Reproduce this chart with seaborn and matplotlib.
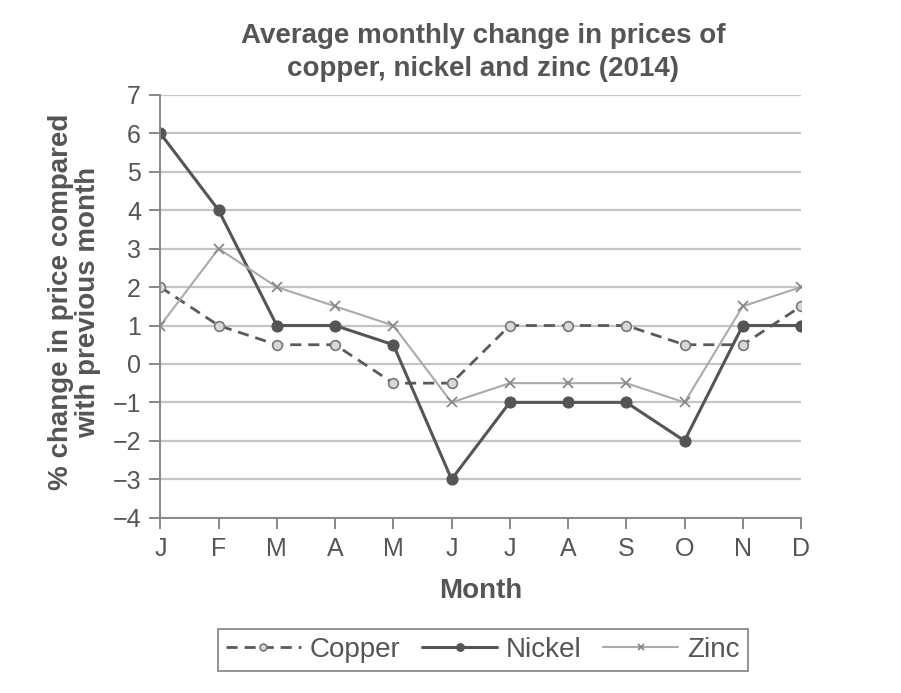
import matplotlib
matplotlib.use("Agg")
import matplotlib.pyplot as plt
import numpy as np
import pandas as pd
import seaborn as sns

# Data
months = ["J", "F", "M", "A", "M", "J", "J", "A", "S", "O", "N", "D"]
copper = [2, 1, 0.5, 0.5, -0.5, -0.5, 1, 1, 1, 0.5, 0.5, 1.5]
nickel = [6, 4, 1, 1, 0.5, -3, -1, -1, -1, -2, 1, 1]
zinc = [1, 3, 2, 1.5, 1, -1, -0.5, -0.5, -0.5, -1, 1.5, 2]
y_ticks = list(range(-4, 8))

sns.set_style("white")
plt.rcParams['font.family'] = ['Liberation Sans', 'DejaVu Sans']
text_col = "#555555"

df = pd.DataFrame({"idx": np.arange(len(months)), "Copper": copper, "Nickel": nickel, "Zinc": zinc})

fig = plt.figure(figsize=(9.01, 6.93), dpi=100)
ax = fig.add_axes([0.178, 0.253, 0.711, 0.610])

# horizontal grid at every integer
for y in y_ticks:
    ax.axhline(y, color="#c4c4c4", lw=1.6, zorder=0)

sns.lineplot(data=df, x="idx", y="Copper", ax=ax, color="#5a5a5a", lw=2, linestyle=(0, (4, 2.5)),
             marker="o", markersize=7, markerfacecolor="#d8d8d8", markeredgecolor="#777777",
             markeredgewidth=1.2, label="Copper")
sns.lineplot(data=df, x="idx", y="Nickel", ax=ax, color="#555555", lw=2.2,
             marker="o", markersize=8, markerfacecolor="#555555", markeredgecolor="#555555",
             label="Nickel")
sns.lineplot(data=df, x="idx", y="Zinc", ax=ax, color="#aaaaaa", lw=1.5,
             marker="x", markersize=7, markeredgecolor="#888888", markeredgewidth=1.3,
             label="Zinc")

ax.set_xlim(0, 11)
ax.set_ylim(-4, 7)
ax.set_xticks(df["idx"])
ax.set_xticklabels(months)
ax.set_yticks(y_ticks)
ax.set_yticklabels([str(v).replace("-", "\u2212") for v in y_ticks])
for s in ["top", "right"]:
    ax.spines[s].set_visible(False)
for s in ["left", "bottom"]:
    ax.spines[s].set_color("#888888")
    ax.spines[s].set_linewidth(1.4)
ax.tick_params(axis="both", colors="#888888", labelcolor=text_col, labelsize=18,
               length=8, width=1.4, direction="out", left=True, bottom=True, pad=6)

ax.set_xlabel("Month", fontsize=20, fontweight="bold", color=text_col, labelpad=12)
ax.set_ylabel("% change in price compared\nwith previous month", fontsize=20, fontweight="bold",
              color=text_col, linespacing=1.05)
ax.yaxis.set_label_coords(-0.093, 0.51)
fig.text(0.536, 0.882, "Average monthly change in prices of\ncopper, nickel and zinc (2014)",
         ha="center", va="bottom", fontsize=20, fontweight="bold", color=text_col, linespacing=1.35)

leg = ax.legend(loc="upper center", bbox_to_anchor=(0.503, -0.23), ncol=3, frameon=True,
                fancybox=False, edgecolor="#777777", fontsize=20, handlelength=2.7,
                columnspacing=0.8, handletextpad=0.3, borderpad=0.3, markerscale=0.7)
leg.get_frame().set_linewidth(1.4)
for t in leg.get_texts():
    t.set_color(text_col)

fig.savefig("out.png", dpi=100, facecolor="white")
